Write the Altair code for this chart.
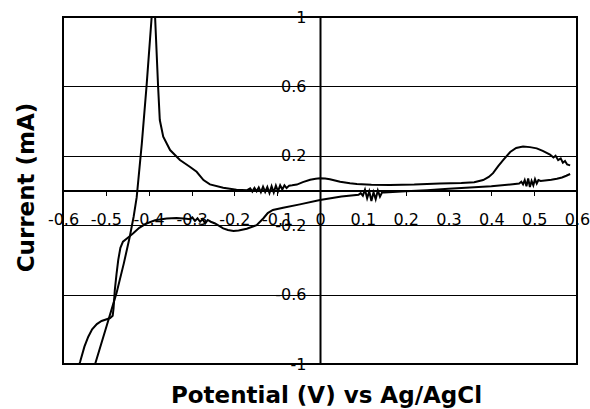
import altair as alt
import pandas as pd

# Positive-going scan (upper curve in right half, stripping peak near -0.39 V)
up_x = [-0.545, -0.525, -0.498, -0.475, -0.458, -0.444, -0.435, -0.428, -0.416, -0.405, -0.393,
        -0.389, -0.385, -0.378, -0.374, -0.366, -0.35, -0.327, -0.304, -0.288, -0.272, -0.257,
        -0.226, -0.195, -0.17, -0.163, -0.158, -0.153, -0.148, -0.143, -0.138, -0.133, -0.128,
        -0.123, -0.118, -0.113, -0.108, -0.103, -0.098, -0.093, -0.088, -0.083, -0.078, -0.072,
        -0.065, -0.054, -0.04, -0.023, -0.01, 0.0, 0.012, 0.023, 0.047, 0.07, 0.086, 0.12,
        0.163, 0.22, 0.28, 0.33, 0.36, 0.381, 0.394, 0.404, 0.416, 0.428, 0.444, 0.458, 0.474,
        0.49, 0.506, 0.52, 0.537, 0.545, 0.55, 0.556, 0.562, 0.567, 0.572, 0.577, 0.584]
up_y = [-1.15, -1.0, -0.78, -0.59, -0.42, -0.265, -0.15, -0.04, 0.27, 0.6, 1.0,
        1.08, 1.0, 0.6, 0.406, 0.31, 0.233, 0.176, 0.137, 0.108, 0.06, 0.035,
        0.016, 0.004, 0.002, 0.012, -0.006, 0.015, -0.004, 0.018, -0.01, 0.022, -0.008,
        0.02, -0.015, 0.025, -0.012, 0.028, -0.005, 0.03, 0.006, 0.03, 0.014, 0.028,
        0.03, 0.034, 0.048, 0.062, 0.068, 0.07, 0.069, 0.065, 0.051, 0.042, 0.037, 0.033,
        0.032, 0.034, 0.04, 0.043, 0.048, 0.06, 0.078, 0.1, 0.14, 0.176, 0.222, 0.245, 0.253,
        0.25, 0.243, 0.228, 0.207, 0.19, 0.2, 0.175, 0.185, 0.16, 0.17, 0.15, 0.145]

# Negative-going scan (lower curve, deposition below -0.45 V)
dn_x = [0.584, 0.575, 0.565, 0.553, 0.54, 0.525, 0.515, 0.51, 0.506, 0.502, 0.498, 0.494,
        0.49, 0.486, 0.482, 0.478, 0.474, 0.47, 0.465, 0.45, 0.4, 0.35, 0.3, 0.25, 0.2, 0.15,
        0.145, 0.14, 0.135, 0.13, 0.125, 0.12, 0.115, 0.11, 0.105, 0.1, 0.095, 0.09, 0.05,
        0.0, -0.047, -0.086, -0.11, -0.122, -0.132, -0.148, -0.171, -0.19, -0.202, -0.215,
        -0.226, -0.245, -0.255, -0.262, -0.268, -0.274, -0.28, -0.286, -0.292, -0.298,
        -0.304, -0.312, -0.335, -0.358, -0.385, -0.405, -0.422, -0.436, -0.45, -0.46,
        -0.466, -0.471, -0.475, -0.479, -0.482, -0.484, -0.49, -0.498, -0.51, -0.521,
        -0.532, -0.541, -0.55, -0.56, -0.57]
dn_y = [0.095, 0.085, 0.075, 0.068, 0.062, 0.058, 0.055, 0.06, 0.04, 0.065, 0.03, 0.055,
        0.02, 0.07, 0.025, 0.06, 0.035, 0.05, 0.04, 0.036, 0.025, 0.017, 0.01, 0.002, -0.005,
        -0.012, -0.01, -0.035, 0.0, -0.05, -0.01, -0.06, -0.005, -0.045, 0.005, -0.03,
        -0.015, -0.025, -0.035, -0.055, -0.08, -0.1, -0.112, -0.13, -0.16, -0.2, -0.22,
        -0.23, -0.233, -0.228, -0.218, -0.19, -0.18, -0.17, -0.19, -0.165, -0.18, -0.16,
        -0.175, -0.155, -0.165, -0.163, -0.158, -0.162, -0.172, -0.19, -0.215, -0.247,
        -0.275, -0.295, -0.33, -0.4, -0.48, -0.573, -0.68, -0.722, -0.735, -0.742, -0.752,
        -0.77, -0.8, -0.843, -0.9, -0.987, -1.06]

x_ticks = [-0.6, -0.5, -0.4, -0.3, -0.2, -0.1, 0.0, 0.1, 0.2, 0.3, 0.4, 0.5, 0.6]
y_ticks = [-1.0, -0.6, -0.2, 0.2, 0.6, 1.0]

rows = []
for i, (x, y) in enumerate(zip(up_x, up_y)):
    rows.append({"E": x, "I": y, "scan": "up", "i": i})
for i, (x, y) in enumerate(zip(dn_x, dn_y)):
    rows.append({"E": x, "I": y, "scan": "down", "i": i})
df = pd.DataFrame(rows)

FONT = "DejaVu Sans"
W, H = 514, 347

x_axis = alt.Axis(
    values=x_ticks, orient="bottom", offset=-173.5,
    domain=True, domainColor="black", domainWidth=2,
    ticks=True, tickColor="black", tickWidth=1, tickSize=5,
    labelFont=FONT, labelFontSize=16, labelColor="black", labelPadding=16,
    labelExpr="toString(datum.value)", labelOverlap=False, labelFlush=False,
    labelBound=False, grid=False,
    title="Potential (V) vs Ag/AgCl", titleFont=FONT, titleFontSize=23,
    titleFontWeight="bold", titleColor="black", titleX=263, titleY=212,
    titleAlign="center", titleBaseline="alphabetic",
)
y_axis = alt.Axis(
    values=y_ticks, orient="left", offset=-257,
    domain=True, domainColor="black", domainWidth=2,
    ticks=True, tickColor="black", tickWidth=1, tickSize=5,
    labelFont=FONT, labelFontSize=16, labelColor="black", labelPadding=9,
    labelExpr="toString(datum.value)", labelOverlap=False, labelFlush=False,
    labelBound=False,
    grid=True, gridColor="black", gridWidth=1, gridOpacity=1,
    title="Current (mA)", titleFont=FONT, titleFontSize=23,
    titleFontWeight="bold", titleColor="black", titleX=-287, titleY=170,
    titleAngle=270, titleAlign="center", titleBaseline="alphabetic",
)

chart = alt.Chart(df).mark_line(color="black", strokeWidth=2, clip=True).encode(
    x=alt.X("E:Q", scale=alt.Scale(domain=[-0.6, 0.6], nice=False, zero=False), axis=x_axis),
    y=alt.Y("I:Q", scale=alt.Scale(domain=[-1, 1], nice=False, zero=False), axis=y_axis),
    detail="scan:N",
    order="i:Q",
).properties(
    width=W, height=H,
    padding={"left": 63, "top": 17, "right": 13, "bottom": 45},
    autosize="none",
    background="white",
).configure_view(stroke="black", strokeWidth=2)

chart.save("out.html", embed_options={"renderer": "svg", "actions": False})
